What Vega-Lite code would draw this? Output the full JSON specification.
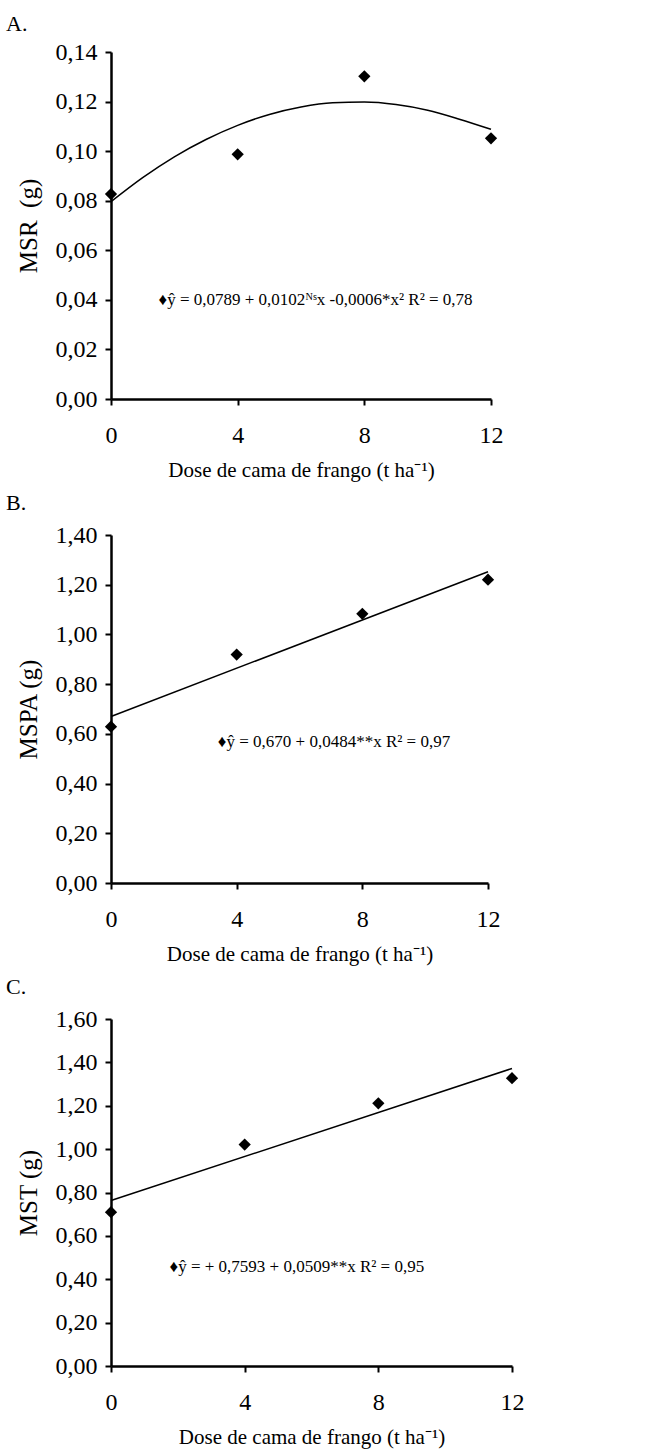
{
  "$schema": "https://vega.github.io/schema/vega-lite/v6.json",
  "description": "Massa seca vs dose de cama de frango, three panels",
  "padding": {"left": 6, "top": 13, "right": 14, "bottom": 4},
  "spacing": 12,
  "datasets": {
    "ptsA": [
      {"dose": 0, "val": 0.0827},
      {"dose": 4, "val": 0.0987},
      {"dose": 8, "val": 0.1302},
      {"dose": 12, "val": 0.1052}
    ],
    "fitA": [
      {"dose": 0, "val": 0.0796},
      {"dose": 1, "val": 0.0893},
      {"dose": 2, "val": 0.0977},
      {"dose": 3, "val": 0.1047},
      {"dose": 4, "val": 0.1104},
      {"dose": 5, "val": 0.1148},
      {"dose": 6, "val": 0.1178},
      {"dose": 7, "val": 0.1195},
      {"dose": 8, "val": 0.1198},
      {"dose": 9, "val": 0.1188},
      {"dose": 10, "val": 0.1165},
      {"dose": 11, "val": 0.1129},
      {"dose": 12, "val": 0.1088}
    ],
    "eqA": [{"dose": 1.5, "val": 0.04, "txt": "♦ŷ = 0,0789 + 0,0102ᴺˢx -0,0006*x² R² = 0,78"}],
    "ptsB": [
      {"dose": 0, "val": 0.629},
      {"dose": 4, "val": 0.919},
      {"dose": 8, "val": 1.083},
      {"dose": 12, "val": 1.22}
    ],
    "fitB": [
      {"dose": 0, "val": 0.670},
      {"dose": 12, "val": 1.252}
    ],
    "eqB": [{"dose": 3.4, "val": 0.566, "txt": "♦ŷ = 0,670 + 0,0484**x R² = 0,97"}],
    "ptsC": [
      {"dose": 0, "val": 0.709},
      {"dose": 4, "val": 1.021},
      {"dose": 8, "val": 1.211},
      {"dose": 12, "val": 1.327}
    ],
    "fitC": [
      {"dose": 0, "val": 0.763},
      {"dose": 12, "val": 1.372}
    ],
    "eqC": [{"dose": 1.75, "val": 0.456, "txt": "♦ŷ = + 0,7593 + 0,0509**x  R² = 0,95"}]
  },
  "vconcat": [
    {
      "width": 380,
      "height": 347,
      "title": {"text": "A.", "anchor": "start", "frame": "bounds", "dx": -10, "offset": 4},
      "layer": [
        {
          "data": {"name": "fitA"},
          "mark": {"type": "line", "color": "black", "strokeWidth": 1.5, "interpolate": "monotone"},
          "encoding": {
            "x": {"field": "dose", "type": "quantitative", "scale": {"domain": [0, 12], "nice": false},
              "axis": {"values": [0, 4, 8, 12], "title": "Dose de cama de frango (t ha⁻¹)"}},
            "y": {"field": "val", "type": "quantitative", "scale": {"domain": [0, 0.14], "nice": false},
              "axis": {"values": [0, 0.02, 0.04, 0.06, 0.08, 0.1, 0.12, 0.14], "title": "MSR\u00a0 (g)",
                "labelExpr": "replace(format(datum.value, '.2f'), '.', ',')"}}
          }
        },
        {
          "data": {"name": "ptsA"},
          "mark": {"type": "point", "shape": "diamond", "filled": true, "color": "black", "size": 150, "opacity": 1},
          "encoding": {
            "x": {"field": "dose", "type": "quantitative"},
            "y": {"field": "val", "type": "quantitative"}
          }
        },
        {
          "data": {"name": "eqA"},
          "mark": {"type": "text", "align": "left", "baseline": "middle", "fontSize": 17, "color": "black"},
          "encoding": {
            "x": {"field": "dose", "type": "quantitative"},
            "y": {"field": "val", "type": "quantitative"},
            "text": {"field": "txt"}
          }
        }
      ]
    },
    {
      "width": 377,
      "height": 348,
      "title": {"text": "B.", "anchor": "start", "frame": "bounds", "dx": -10, "offset": 8},
      "layer": [
        {
          "data": {"name": "fitB"},
          "mark": {"type": "line", "color": "black", "strokeWidth": 1.5},
          "encoding": {
            "x": {"field": "dose", "type": "quantitative", "scale": {"domain": [0, 12], "nice": false},
              "axis": {"values": [0, 4, 8, 12], "title": "Dose de cama de frango (t ha⁻¹)"}},
            "y": {"field": "val", "type": "quantitative", "scale": {"domain": [0, 1.4], "nice": false},
              "axis": {"values": [0, 0.2, 0.4, 0.6, 0.8, 1.0, 1.2, 1.4], "title": "MSPA (g)",
                "labelExpr": "replace(format(datum.value, '.2f'), '.', ',')"}}
          }
        },
        {
          "data": {"name": "ptsB"},
          "mark": {"type": "point", "shape": "diamond", "filled": true, "color": "black", "size": 150, "opacity": 1},
          "encoding": {
            "x": {"field": "dose", "type": "quantitative"},
            "y": {"field": "val", "type": "quantitative"}
          }
        },
        {
          "data": {"name": "eqB"},
          "mark": {"type": "text", "align": "left", "baseline": "middle", "fontSize": 17, "color": "black"},
          "encoding": {
            "x": {"field": "dose", "type": "quantitative"},
            "y": {"field": "val", "type": "quantitative"},
            "text": {"field": "txt"}
          }
        }
      ]
    },
    {
      "width": 401,
      "height": 347,
      "title": {"text": "C.", "anchor": "start", "frame": "bounds", "dx": -10, "offset": 8},
      "layer": [
        {
          "data": {"name": "fitC"},
          "mark": {"type": "line", "color": "black", "strokeWidth": 1.5},
          "encoding": {
            "x": {"field": "dose", "type": "quantitative", "scale": {"domain": [0, 12], "nice": false},
              "axis": {"values": [0, 4, 8, 12], "title": "Dose de cama de frango (t ha⁻¹)"}},
            "y": {"field": "val", "type": "quantitative", "scale": {"domain": [0, 1.6], "nice": false},
              "axis": {"values": [0, 0.2, 0.4, 0.6, 0.8, 1.0, 1.2, 1.4, 1.6], "title": "MST (g)",
                "labelExpr": "replace(format(datum.value, '.2f'), '.', ',')"}}
          }
        },
        {
          "data": {"name": "ptsC"},
          "mark": {"type": "point", "shape": "diamond", "filled": true, "color": "black", "size": 150, "opacity": 1},
          "encoding": {
            "x": {"field": "dose", "type": "quantitative"},
            "y": {"field": "val", "type": "quantitative"}
          }
        },
        {
          "data": {"name": "eqC"},
          "mark": {"type": "text", "align": "left", "baseline": "middle", "fontSize": 17, "color": "black"},
          "encoding": {
            "x": {"field": "dose", "type": "quantitative"},
            "y": {"field": "val", "type": "quantitative"},
            "text": {"field": "txt"}
          }
        }
      ]
    }
  ],
  "config": {
    "font": "Liberation Serif",
    "view": {"stroke": null},
    "title": {"fontSize": 22, "fontWeight": "normal", "color": "black", "font": "Liberation Serif"},
    "text": {"font": "Liberation Serif"},
    "axis": {
      "grid": false,
      "domainColor": "black",
      "domainWidth": 2.5,
      "tickColor": "black",
      "tickWidth": 2,
      "tickSize": 6,
      "labelColor": "black",
      "labelFont": "Liberation Serif",
      "labelFontSize": 24,
      "titleColor": "black",
      "titleFont": "Liberation Serif",
      "titleFontWeight": "normal"
    },
    "axisX": {"labelPadding": 18, "titlePadding": 12, "labelFlush": false, "titleFontSize": 21},
    "axisY": {"labelPadding": 8, "titlePadding": 14, "titleFontSize": 25}
  }
}
